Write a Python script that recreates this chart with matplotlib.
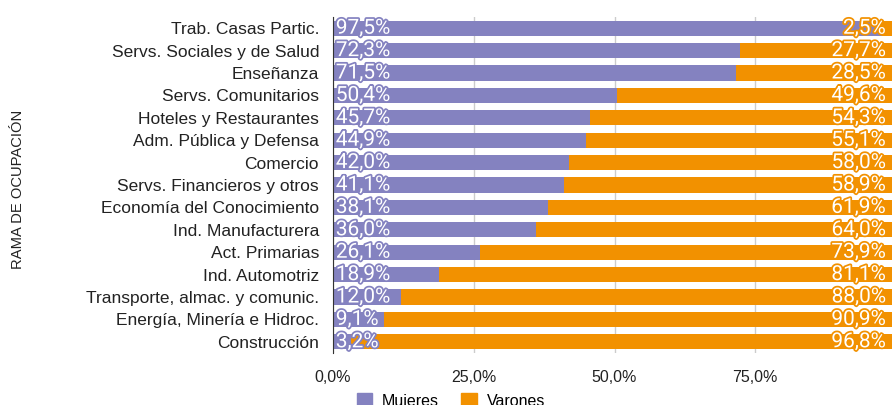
import matplotlib.pyplot as plt
import matplotlib.patches as patch
import matplotlib.patheffects as pe
import numpy as np

# ramas de ocupación, de arriba hacia abajo
ramas = ['Trab. Casas Partic.', 'Servs. Sociales y de Salud', 'Enseñanza',
         'Servs. Comunitarios', 'Hoteles y Restaurantes', 'Adm. Pública y Defensa',
         'Comercio', 'Servs. Financieros y otros', 'Economía del Conocimiento',
         'Ind. Manufacturera', 'Act. Primarias', 'Ind. Automotriz',
         'Transporte, almac. y comunic.', 'Energía, Minería e Hidroc.', 'Construcción']
mujeres = [97.5, 72.3, 71.5, 50.4, 45.7, 44.9, 42.0, 41.1, 38.1, 36.0, 26.1, 18.9, 12.0, 9.1, 3.2]
varones = [2.5, 27.7, 28.5, 49.6, 54.3, 55.1, 58.0, 58.9, 61.9, 64.0, 73.9, 81.1, 88.0, 90.9, 96.8]
xticks = [0, 25, 50, 75]

colMuj = '#8482c0'
colVar = '#f29100'

plt.rcParams['font.family'] = ['Liberation Sans', 'DejaVu Sans']

fig = plt.figure(figsize=(8.92, 4.05), dpi=100)
ax = fig.add_axes([333/892, 1-353/405, 563/892, 336/405])

y = np.arange(len(ramas))
mujF = np.array(mujeres) / 100
varF = np.array(varones) / 100
ax.barh(y, mujF, height=0.68, color=colMuj, zorder=2)
ax.barh(y, varF, left=mujF, height=0.68, color=colVar, zorder=2)

# etiquetas de porcentaje con borde del color de la barra
def fmt(v):
    return f'{v:.1f}%'.replace('.', ',')

for i in range(len(ramas)):
    ax.text(0.005, y[i], fmt(mujeres[i]), ha='left', va='center', color='white',
            fontsize=15, family='Roboto', zorder=3,
            path_effects=[pe.withStroke(linewidth=2.5, foreground=colMuj)])
    ax.text(0.982, y[i], fmt(varones[i]), ha='right', va='center', color='white',
            fontsize=15, family='Roboto', zorder=3,
            path_effects=[pe.withStroke(linewidth=2.5, foreground=colVar)])

ax.set_ylim(len(ramas)-0.5, -0.5)
ax.set_xlim(0, 1)
ax.set_yticks(y)
ax.set_yticklabels(ramas, fontsize=12.5, color='#222222')
ax.set_xticks([t/100 for t in xticks])
ax.set_xticklabels([fmt(t) for t in xticks], fontsize=11.5, color='#222222')
ax.tick_params(axis='both', length=0)
ax.tick_params(axis='y', pad=10)
ax.tick_params(axis='x', pad=12)
ax.grid(axis='x', color='#cccccc', lw=1, zorder=0)
for s in ['top', 'right', 'bottom']:
    ax.spines[s].set_visible(False)
ax.spines['left'].set_color('#333333')
ax.spines['left'].set_zorder(4)

fig.text(18/892, 1-189/405, 'RAMA DE OCUPACIÓN', rotation=90, ha='center', va='center',
         fontsize=10.6, color='#222222')

handles = [patch.Patch(color=colMuj, label='Mujeres'), patch.Patch(color=colVar, label='Varones')]
fig.legend(handles=handles, loc='center', bbox_to_anchor=(451/892, 1-401/405), ncol=2,
           frameon=False, fontsize=11.5, handlelength=0.95, handleheight=0.95, columnspacing=1.4,
           handletextpad=0.65)

plt.savefig('out.png', dpi=100)
